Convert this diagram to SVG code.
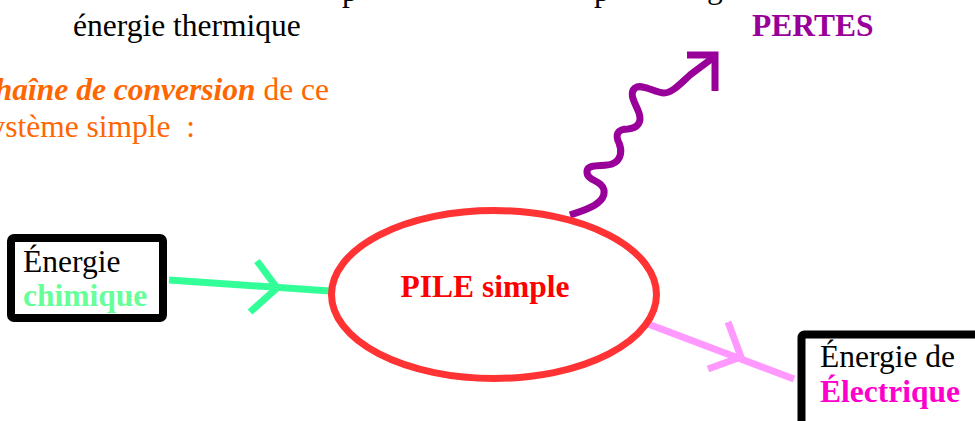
<svg xmlns="http://www.w3.org/2000/svg" width="975" height="421" viewBox="0 0 975 421">
  <style>
    text { font-family: "Liberation Serif", "Times New Roman", serif; font-size: 31.5px; }
    .b { font-weight: bold; }
    .flow { fill: none; stroke-width: 7; stroke-linecap: butt; stroke-linejoin: miter; }
    .box { fill: #ffffff; stroke: #000000; stroke-width: 8; }
  </style>
  <rect width="975" height="421" fill="#ffffff"/>

  <!-- clipped running text from the page -->
  <g id="page-text">
    <text x="342" y="0.5" fill="#000">p</text>
    <text x="594" y="0.5" fill="#000">p</text>
    <text x="707" y="-2" fill="#000">g</text>
    <text x="73" y="36" fill="#000">énergie thermique</text>
    <text x="329" y="100" text-anchor="end" fill="#FF6600"><tspan class="b" font-style="italic">chaîne de conversion</tspan> de ce</text>
    <text x="195" y="137" text-anchor="end" fill="#FF6600" xml:space="preserve">système simple  :</text>
  </g>

  <!-- connectors -->
  <g id="connectors">
    <g id="in-chimique">
      <path class="flow" stroke="#33FF99" d="M169,280 L330,291"/>
      <path class="flow" stroke="#33FF99" d="M257,261 L277,288 L250,312"/>
    </g>
    <g id="out-electrique">
      <path class="flow" stroke="#FF99FF" d="M648,324 L794,379"/>
      <path class="flow" stroke="#FF99FF" d="M728,322 L741,357 L708,369"/>
    </g>
    <g id="out-pertes">
      <path class="flow" stroke="#990099" stroke-linecap="butt" stroke-linejoin="round"
            d="M570,215 C585,210 606,204 604,190 C602,180 586,181 587,171 C588,163 604,167 612,164 C622,160 622,150 619,143 C615,135 617,129 628,129 C638,128 642,122 639,113 C636,104 628,94 635,88 C642,83 655,93 664,93 C672,93 680,84 690,75 L714,57"/>
      <path class="flow" stroke="#990099" stroke-width="7.5" d="M687,55 L715,55 L715,91"/>
    </g>
  </g>

  <!-- source node -->
  <g id="node-chimique">
    <rect class="box" x="11" y="238" width="152" height="80" rx="3"/>
    <text x="23" y="272" fill="#000">Énergie</text>
    <text class="b" x="23" y="306" fill="#66FF99">chimique</text>
  </g>

  <!-- converter node -->
  <g id="node-pile">
    <ellipse cx="494" cy="294.5" rx="162.5" ry="84" fill="none" stroke="#FF3333" stroke-width="7"/>
    <text class="b" x="485" y="297" text-anchor="middle" fill="#FF0000">PILE simple</text>
  </g>

  <!-- losses label -->
  <g id="node-pertes">
    <text class="b" x="752" y="36" fill="#990099">PERTES</text>
  </g>

  <!-- output node -->
  <g id="node-electrique">
    <rect class="box" x="801.5" y="334.5" width="220" height="120" rx="3" stroke-width="7"/>
    <text x="820" y="367" fill="#000">Énergie de</text>
    <text class="b" x="820" y="402" fill="#FF00CC">Électrique</text>
  </g>
</svg>
